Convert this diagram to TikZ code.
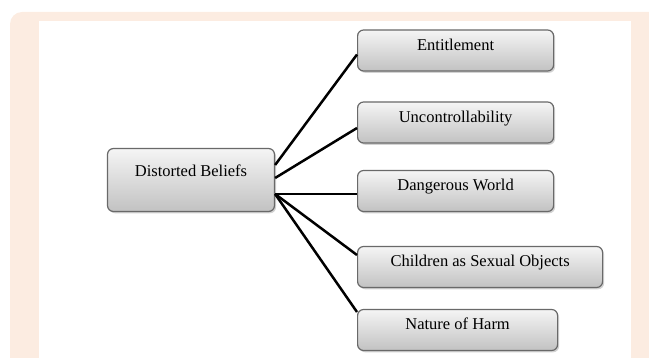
\documentclass[tikz,border=0pt]{standalone}
\usepackage{fontspec}
\setmainfont{Liberation Serif}
\usetikzlibrary{positioning,shadows}

\definecolor{peach}{RGB}{252,236,225}
\definecolor{boxline}{RGB}{105,105,105}

\begin{document}
\begin{tikzpicture}[x=1pt,y=-1pt,thick]
\tikzstyle{belief}=[rectangle,rounded corners=6pt,draw=boxline,line width=1.2pt,
                    top color=black!4,bottom color=black!24,
                    drop shadow={shadow xshift=1.5pt,shadow yshift=-1.8pt,opacity=0.35},
                    font=\fontsize{16.5}{18}\selectfont,
                    text height=11pt,text depth=11pt,inner sep=0pt]
\tikzstyle{kind}=[belief,minimum height=41pt,anchor=west]
\tikzstyle{conn}=[draw=black,line width=2.5pt]

\useasboundingbox (0,0) rectangle (649,358);
\clip (0,0) rectangle (649,358);
\fill[peach,rounded corners=12pt] (10,12) rectangle (680,400);
\fill[white] (39,21) rectangle (631,400);

\node[belief,minimum width=167pt,minimum height=63pt,text depth=17pt] (root) at (191,180) {Distorted Beliefs};

\node[kind,minimum width=196pt] (ent) at (357,50.5) {Entitlement};
\node[kind,minimum width=196pt] (unc) at (357,122.5) {Uncontrollability};
\node[kind,minimum width=196pt] (dan) at (357,191) {Dangerous World};
\node[kind,minimum width=245pt] (chi) at (357,267) {Children as Sexual Objects};
\node[kind,minimum width=200pt] (nat) at (357,330) {Nature of Harm};

% lines from the root box to each kind
\draw[conn] ([yshift=15pt]root.east) -- ([yshift=-4pt]ent.west);
\draw[conn] ([yshift=2pt]root.east) -- ([yshift=-5.5pt]unc.west);
\draw[conn] ([yshift=-14pt]root.east) -- ([yshift=-3pt]dan.west);
\draw[conn] ([yshift=-14pt]root.east) -- ([yshift=12pt]chi.west);
\draw[conn] ([yshift=-14pt]root.east) -- ([yshift=18pt]nat.west);
\end{tikzpicture}
\end{document}
